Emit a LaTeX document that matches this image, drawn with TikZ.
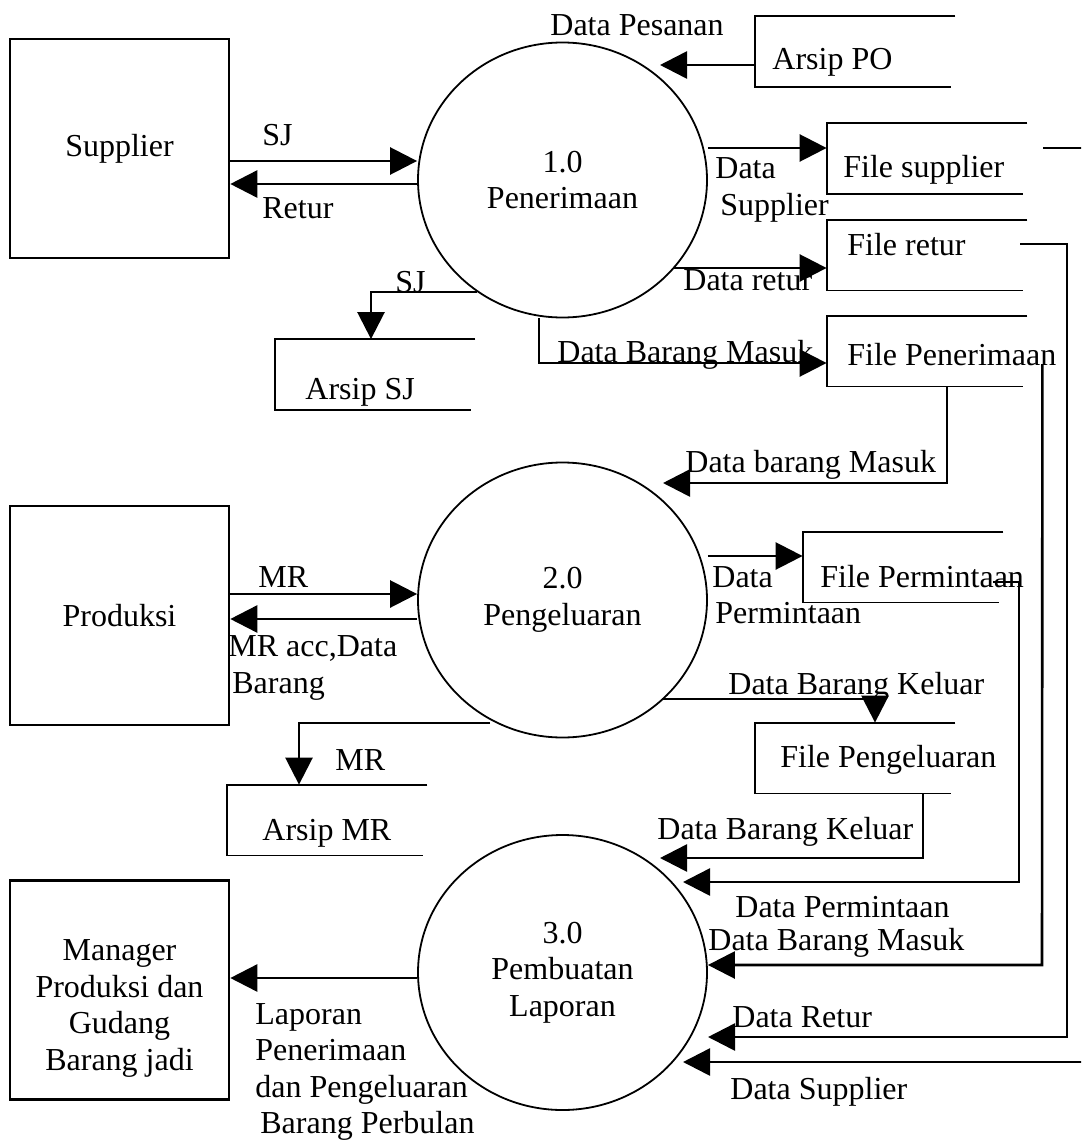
\documentclass[tikz,border=0pt]{standalone}
\usepackage{fontspec}
\setmainfont{Liberation Serif}
\usepackage{tikz}
\usetikzlibrary{positioning, calc, arrows.meta, shapes.geometric}
\newcommand{\dfdfont}{\fontsize{16pt}{18.3pt}\selectfont}
\tikzset{
  entity/.style={draw,line width=1.3pt,minimum width=109.5pt,minimum height=109.5pt,
    inner sep=2pt,font=\dfdfont,align=center},
  proc/.style={ellipse,draw,line width=0.9pt,minimum width=144.5pt,
    minimum height=137.5pt,inner sep=0pt,font=\dfdfont,align=center},
  store/.style={minimum width=100pt,minimum height=35pt,inner sep=0pt},
  storeline/.style={line width=0.9pt},
  flow/.style={-{Triangle[length=13.5pt,width=13.5pt]},line width=1.3pt},
  lbl/.style={font=\dfdfont,inner sep=0pt,anchor=west,align=left},
}

\begin{document}
\begin{tikzpicture}[x=0.5pt,y=-0.5pt]
  \path[use as bounding box,clip] (0,0) rectangle (1081,1145);
  % external entities
  \node[entity] (sup) at (119.5,148.5) {Supplier};
  \node[entity] (prod) at (119.5,615.5) {Produksi};
  \node[entity] (mgr) at (119.5,990)
    {\rule{0pt}{29pt}Manager\\Produksi dan\\Gudang\\Barang jadi};
  % processes
  \node[proc] (p1) at (562.5,180) {1.0\\Penerimaan};
  \node[proc] (p2) at (562.5,600) {2.0\\Pengeluaran};
  \node[proc] (p3) at (562.5,972.5) {3.0\\Pembuatan\\Laporan};
  % data stores
  \node[store] (po) at (855,51.5) {};
  \node[store] (fsup) at (927,158.5) {};
  \node[store] (fret) at (927,255) {};
  \node[store] (fpen) at (927,351) {};
  \node[store] (fperm) at (903,567) {};
  \node[store] (fpeng) at (855,758) {};
  \node[store] (asj) at (375,374.5) {};
  \node[store] (amr) at (327,820) {};
  \foreach \s in {po,fsup,fret,fpen,fperm,fpeng,asj,amr}
    \draw[storeline] (\s.north east) -- (\s.north west) -- (\s.south west)
      -- ([xshift=-2pt]\s.south east);
  \node[lbl] (poT) at (772,62) {Arsip PO};
  \node[lbl] (fsupT) at (843,170) {File supplier};
  \node[lbl] (fretT) at (847,245) {File retur};
  \node[lbl] (fpenT) at (847,355) {File Penerimaan};
  \node[lbl] (fpermT) at (820,577) {File Permintaan};
  \node[lbl] (fpengT) at (780,760) {File Pengeluaran};
  \node[lbl] (asjT) at (305,392) {Arsip SJ};
  \node[lbl] (amrT) at (262,833) {Arsip MR};
  % flows of 1.0
  \draw[flow] (sup.east |- 0,161) -- (p1.west |- 0,161);
  \node[lbl] (lSJa) at (262,135) {SJ};
  \draw[flow] (p1.west |- 0,184) -- (sup.east |- 0,184);
  \node[lbl] (lRetur) at (262,208) {Retur};
  \draw[flow] (po.west |- 0,65) -- (660,65);
  \node[lbl] (lPesanan) at (550,25) {Data Pesanan};
  \draw[flow] (p1.east |- 0,148) -- (fsup.west |- 0,148);
  \node[lbl] (lSupA) at (715,190) {Data\\\hspace*{2.5pt}Supplier};
  \draw[flow] (673,268) -- (fret.west |- 0,268);
  \node[lbl] (lReturA) at (683,280) {Data retur};
  \draw[flow] (p1.south -| 539,0) -- (539,363) -- (fpen.west |- 0,363);
  \node[lbl] (lMasukA) at (557,355) {Data Barang Masuk};
  \draw[flow] (477,292) -| (asj.north -| 371,0);
  \node[lbl] (lSJb) at (395,282) {SJ};
  % flows of 2.0
  \draw[flow] (fpen.south -| 947,0) |- (663,483);
  \node[lbl] (lMasukB) at (685,465) {Data barang Masuk};
  \draw[flow] (prod.east |- 0,594) -- (p2.west |- 0,594);
  \node[lbl] (lMRa) at (258,577) {MR};
  \draw[flow] (p2.west |- 0,619) -- (prod.east |- 0,619);
  \node[lbl] (lMRacc) at (228,668) {MR acc,Data\\\hspace*{2pt}Barang};
  \draw[flow] (p2.east |- 0,556) -- (fperm.west |- 0,556);
  \node[lbl] (lPermA) at (712,595) {Data\\\hspace*{1.5pt}Permintaan};
  \draw[flow] (662,699) -| (fpeng.north -| 875,0);
  \node[lbl] (lKeluarA) at (728,687) {Data Barang Keluar};
  \draw[flow] (490,723) -| (amr.north -| 299,0);
  \node[lbl] (lMRb) at (335,760) {MR};
  % flows of 3.0
  \draw[flow] (fpeng.south -| 923,0) |- (660,858);
  \node[lbl] (lKeluarB) at (657,832) {Data Barang Keluar};
  \draw[flow] ([xshift=-5pt]fperm.east |- 0,582) -| (1019,882) -- (683,882);
  \node[lbl] (lPermB) at (735,907) {Data Permintaan};
  \draw[flow] ([xshift=7.5pt]fpen.east |- 0,364) -- (1042,965) -- (p3.east |- 0,965);
  \node[lbl] (lMasukC) at (708,943) {Data Barang Masuk};
  \draw[flow] ([xshift=-3.5pt]fret.east |- 0,244) -| (1067,1037) -- (708,1037);
  \node[lbl] (lReturB) at (732,1017) {Data Retur};
  \draw[flow] ([xshift=8pt]fsup.east |- 0,148) -| (1095,1062) -- (683,1062);
  \node[lbl] (lSupB) at (730,1092) {Data Supplier};
  \draw[flow] (p3.west |- 0,978) -- (mgr.east |- 0,978);
  \node[lbl] (lLaporan) at (255,1072)
    {Laporan\\Penerimaan\\dan Pengeluaran\\\hspace*{2.5pt}Barang Perbulan};
\end{tikzpicture}
\end{document}
